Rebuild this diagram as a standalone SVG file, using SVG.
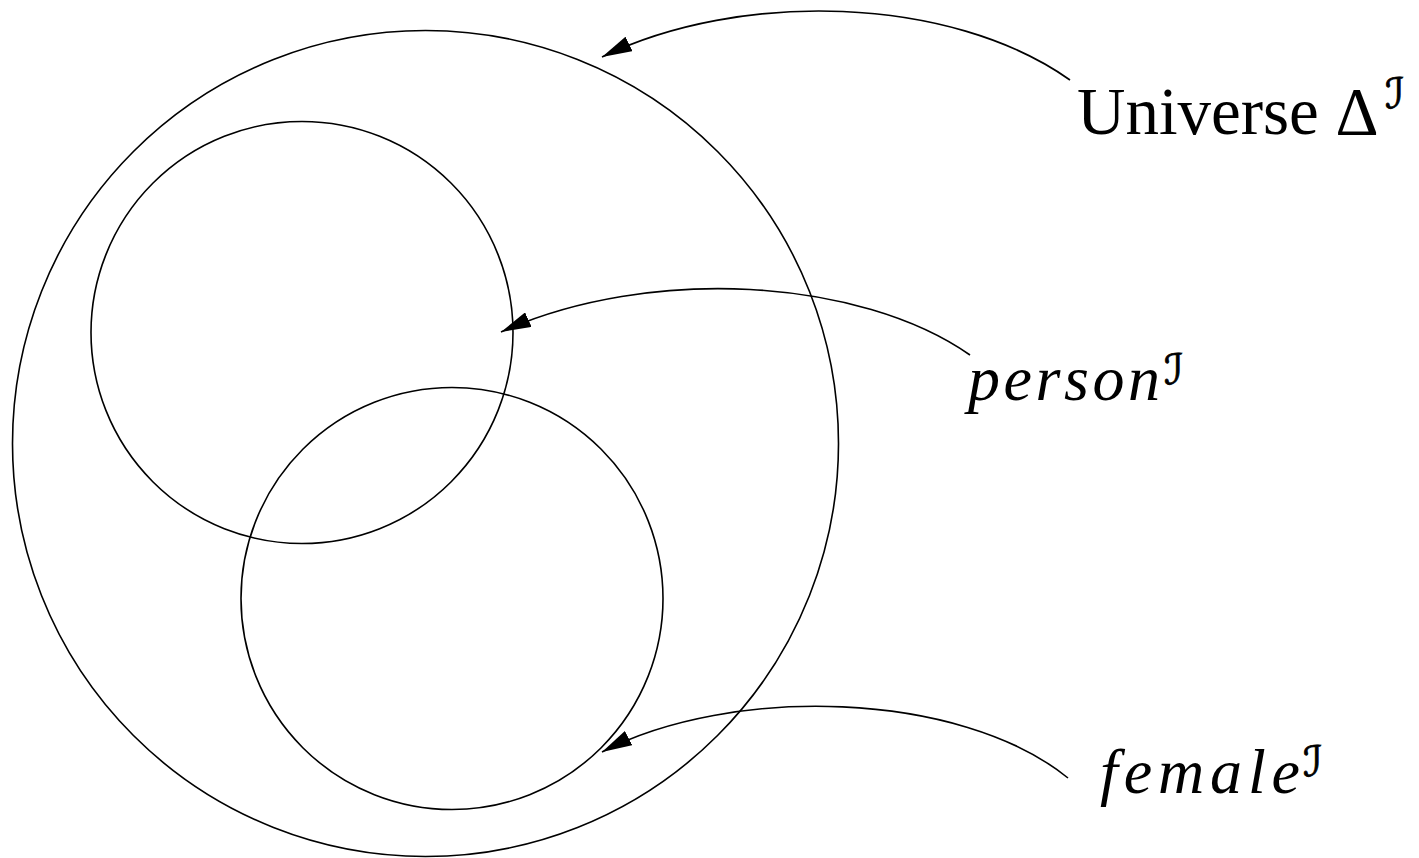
<svg xmlns="http://www.w3.org/2000/svg" width="1419" height="858" viewBox="0 0 1419 858">
<style>
.c{fill:none;stroke:#000;stroke-width:1.6}
.a{fill:none;stroke:#000;stroke-width:1.6}
.t{font-family:"Liberation Serif","DejaVu Serif",serif;fill:#000}
.m{font-family:"Liberation Serif","DejaVu Serif",serif;font-style:italic;fill:#000}
.s{font-family:"DejaVu Sans","Liberation Serif",serif;font-style:italic;fill:#000;stroke:#000;stroke-width:0.8}
</style>
<defs>
<marker id="ah" markerWidth="32" markerHeight="16" refX="30" refY="8" orient="auto" markerUnits="userSpaceOnUse">
<path d="M0,0 L30,8 L0,16 Z" fill="#000"/>
</marker>
</defs>
<g id="universe"><circle class="c" cx="425.5" cy="443.5" r="413"/></g>
<g id="person"><circle class="c" cx="302" cy="332.5" r="211"/></g>
<g id="female"><circle class="c" cx="452" cy="598.5" r="211"/></g>
<g id="connectors">
<path class="a" d="M1070,80 C950,-5 740,-10 602,57" marker-end="url(#ah)"/>
<path class="a" d="M970,355 C860,278 650,265 501,332" marker-end="url(#ah)"/>
<path class="a" d="M1068,778 C960,690 730,685 602,752" marker-end="url(#ah)"/>
</g>
<g id="label-universe">
<text class="t" x="1077" y="134" font-size="67">Universe Δ</text>
<text class="s" x="1385" y="108" font-size="42">ℐ</text>
</g>
<g id="label-person">
<text class="m" x="968" y="400" font-size="64" textLength="192" lengthAdjust="spacing">person</text>
<text class="s" x="1164" y="384" font-size="42">ℐ</text>
</g>
<g id="label-female">
<text class="m" x="1100" y="793" font-size="64" textLength="200" lengthAdjust="spacing">female</text>
<text class="s" x="1303" y="776" font-size="42">ℐ</text>
</g>
</svg>
